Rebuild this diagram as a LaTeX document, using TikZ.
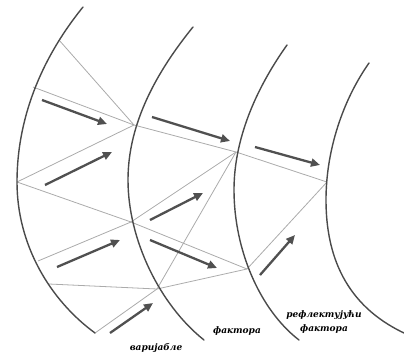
\documentclass[tikz,border=0pt]{standalone}
\usepackage{fontspec}
\setmainfont{DejaVu Serif}
\usetikzlibrary{arrows.meta}

\definecolor{arcink}{HTML}{4A4A4A}
\definecolor{rayink}{HTML}{ABABAB}
\definecolor{flowink}{HTML}{505050}

\begin{document}
\begin{tikzpicture}[
  x=1pt, y=-1pt,
  font=\bfseries\itshape\fontsize{9}{14}\selectfont,
  wave/.style={arcink, line width=1.4pt, line cap=round},
  ray/.style={rayink, line width=0.8pt},
  flow/.style={flowink, line width=2.3pt, -{Triangle[length=9pt, width=8pt]}},
]
\useasboundingbox (0,0) rectangle (404,356);

% points where the rays meet the fronts
\coordinate (p) at (59,40);
\coordinate (q) at (33,87);
\coordinate (d) at (17,182);
\coordinate (e) at (38,261);
\coordinate (f) at (49,284);
\coordinate (r) at (95,333);
\coordinate (a) at (134,125);
\coordinate (c) at (131,222);
\coordinate (g) at (157,289);
\coordinate (b) at (236,152);
\coordinate (h) at (247,269);
\coordinate (i) at (327,182);

\foreach \from/\to in {p/a, q/a, d/a, d/c, e/c, c/b, a/b, c/h,
                       g/b, f/g, g/h, r/g, b/i, i/h}
  \draw[ray] (\from) -- (\to);

% fronts
\draw[wave] (83,7) .. controls (40,60) and (17,120) .. (17,182)
  .. controls (17,245) and (50,300) .. (95,333);
\draw[wave] (193,27) .. controls (150,80) and (128,130) .. (128,180)
  .. controls (128,240) and (160,305) .. (204,340);
\draw[wave] (287,45) .. controls (255,90) and (234,140) .. (234,190)
  .. controls (234,250) and (260,310) .. (299,340);
\draw[wave] (369,63) .. controls (343,100) and (326,150) .. (326,200)
  .. controls (326,255) and (345,305) .. (404,333);

% flow arrows
\foreach \xa/\ya/\xb/\yb in {42/100/107/124, 45/185/112/152, 152/117/230/141,
                             150/220/203/193, 57/267/120/240, 150/240/217/268,
                             255/147/320/165, 260/275/295/235, 110/333/153/303}
  \draw[flow] (\xa,\ya) -- (\xb,\yb);

\node (lvar) at (156,348) {варијабле};
\node (lfac) at (237,331) {фактора};
\node[align=center] (lrefl) at (324,322) {рефлектујући\\фактора};

\end{tikzpicture}
\end{document}
